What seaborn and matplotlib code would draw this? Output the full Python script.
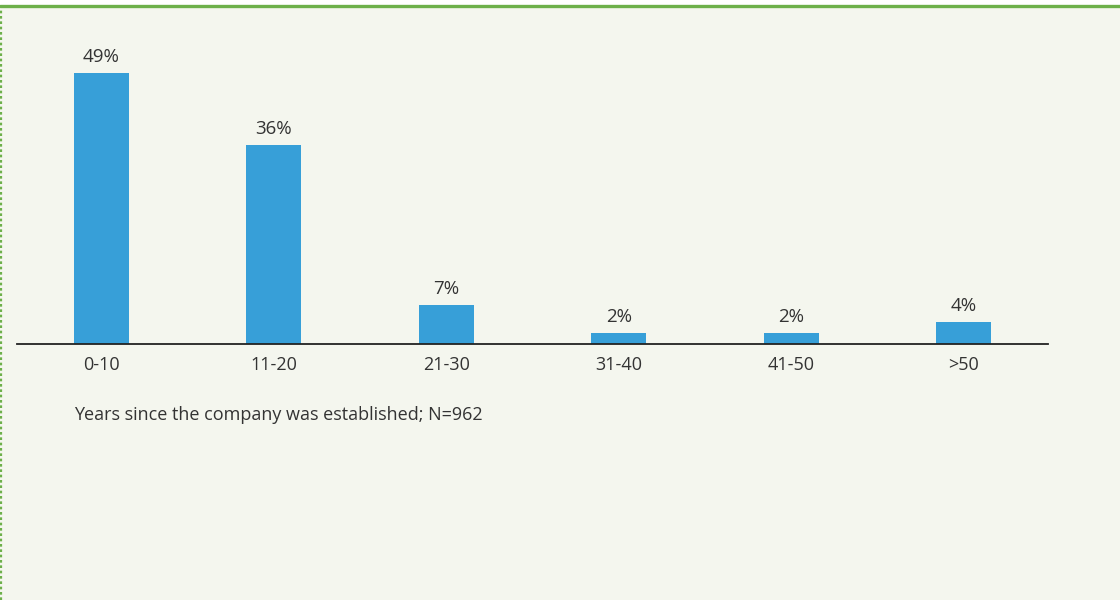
import matplotlib
matplotlib.use("Agg")
import matplotlib.pyplot as plt
from matplotlib.lines import Line2D
from matplotlib.patches import Rectangle
import seaborn as sns
import pandas as pd

# Company age distribution
categories = ["0-10", "11-20", "21-30", "31-40", "41-50", ">50"]
shares = [49, 36, 7, 2, 2, 4]
caption = "Years since the company was established; N=962"

BG = "#F4F6EE"
BAR = "#379FD8"
GREEN = "#6DB04A"
TEXT = "#333333"

sns.set_theme(style="white")
plt.rcParams["font.family"] = ["Open Sans", "DejaVu Sans"]

W, H = 1120, 600
fig = plt.figure(figsize=(W / 100, H / 100), dpi=100, facecolor=BG)

# white strip above the green rule at the top
fig.patches.append(Rectangle((0, 1 - 5 / H), 1, 5 / H, transform=fig.transFigure,
                             facecolor="white", edgecolor="none", zorder=0))
fig.lines.append(Line2D([0, 1], [1 - 6 / H, 1 - 6 / H], transform=fig.transFigure,
                        color=GREEN, lw=2.4))
fig.lines.append(Line2D([0.6 / W, 0.6 / W], [0, 1 - 7 / H], transform=fig.transFigure,
                        color=GREEN, lw=1.6, linestyle=(0, (1.2, 1.2))))

ax_left, ax_right = 17 / W, 1048 / W
ax_bottom, ax_top = (H - 344) / H, (H - 67.5) / H
ax = fig.add_axes([ax_left, ax_bottom, ax_right - ax_left, ax_top - ax_bottom])
ax.set_facecolor(BG)

df = pd.DataFrame({"age": categories, "share": shares})
sns.barplot(data=df, x="age", y="share", color=BAR, saturation=1, width=0.32,
            linewidth=0, edgecolor="none", ax=ax)

ax.set_xlim(-0.49, 5.49)
ax.set_ylim(0, 50)
for name, sp in ax.spines.items():
    sp.set_visible(name == "bottom")
ax.spines["bottom"].set_color("#222222")
ax.spines["bottom"].set_linewidth(1.3)
ax.set_yticks([])
ax.set_xlabel("")
ax.set_ylabel("")
ax.tick_params(axis="x", length=0, pad=9, labelsize=13, labelcolor=TEXT)

for i, v in enumerate(shares):
    ax.annotate(f"{v}%", (i, v), xytext=(0, 5), textcoords="offset points",
                ha="center", va="bottom", fontsize=13.5, color=TEXT)

fig.text(74 / W, 1 - 415 / H, caption, ha="left", va="center", fontsize=13, color=TEXT)

fig.savefig("out.png", dpi=100, facecolor=BG)
